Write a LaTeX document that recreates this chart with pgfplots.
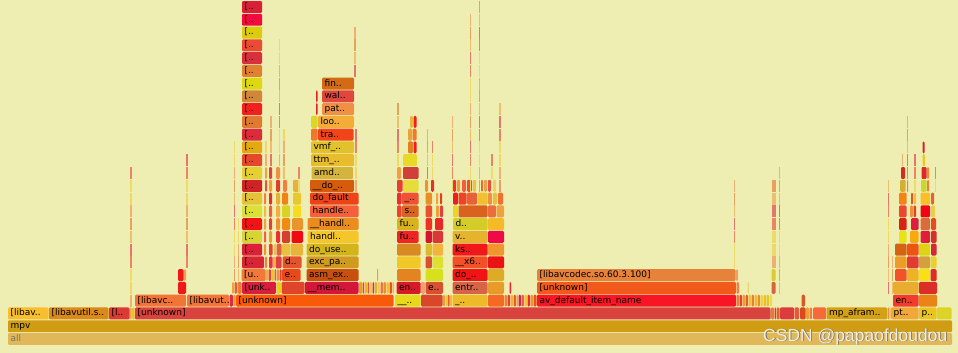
\documentclass[border=0pt]{standalone}
\usepackage{fontspec}
\setmainfont{DejaVu Sans}
\newfontfamily\wmfont{Liberation Sans}
\usepackage{pgfplots}
\pgfplotsset{compat=1.18}
\definecolor{bgc}{HTML}{EEEEB3}
\definecolor{p0}{HTML}{E8A040}
\definecolor{p1}{HTML}{E84030}
\definecolor{p2}{HTML}{F0C838}
\definecolor{p3}{HTML}{E07028}
\definecolor{p4}{HTML}{DC2840}
\definecolor{p5}{HTML}{E8D030}
\definecolor{p6}{HTML}{F08848}
\newcount\fcc
\tikzset{lab/.style={anchor=base west,inner sep=0pt,font=\fontsize{9.0}{11}\selectfont,text=black}}
% frame: x1, x2, level, colour, label
\newcommand{\F}[5]{%
  \global\advance\fcc by 1
  \xglobal\definecolor{fc\the\fcc}{HTML}{#4}%
  \pgfmathsetmacro\Lt{#3+0.937}%
  \edef\tmp{\noexpand\addplot[draw=none,fill=fc\the\fcc,rounded corners=1.2pt] coordinates {(#1,#3) (#2,#3) (#2,\Lt) (#1,\Lt)} -- cycle;}\tmp
  \ifx\relax#5\relax\else
    \pgfmathsetmacro\xl{#1+2.4}\pgfmathsetmacro\yl{#3+0.28}%
    \edef\tmp{\noexpand\node[lab] at (axis cs:\xl,\yl) {\unexpanded{#5}};}\tmp
  \fi}
% thin frames stacked: x, from level, to level, width
\newcommand{\V}[4]{%
  \pgfplotsforeachungrouped \lv in {#2,...,#3}{%
    \pgfmathsetmacro\xb{#1+#4}%
    \pgfmathsetmacro\Lt{\lv+0.937}%
    \pgfmathtruncatemacro\ci{mod(\lv*3+int(#1),7)}%
    \edef\tmp{\noexpand\addplot[draw=none,fill=p\ci!60!bgc] coordinates {(#1,\lv) (\xb,\lv) (\xb,\Lt) (#1,\Lt)} -- cycle;}\tmp
  }}
\begin{document}
\begin{tikzpicture}
\begin{axis}[scale only axis, width=958pt, height=353pt,
  xmin=0, xmax=958, ymin=-0.6265, ymax=27.016,
  axis line style={draw=none}, ticks=none,
  axis background/.style={fill=bgc}, clip=false]
% level 0,1
\F{8}{952}{0}{E0B85A}{}
\node[lab,text={rgb,255:red,120;green,115;blue,95}] at (axis cs:10.4,0.28) {all};
\F{8}{952}{1}{CF9C14}{mpv}
% level 2
\F{8}{48.5}{2}{F8BE2E}{[libav..}
\F{49}{108.5}{2}{D98A18}{[libavutil.s..}
\F{109}{129.5}{2}{DC3A34}{[l..}
\F{130}{131.5}{2}{F0A050}{}
\F{132}{134.5}{2}{E8C030}{}
\F{135}{770.5}{2}{D9433D}{[unknown]}
\F{771}{774}{2}{E8783A}{}
\F{774.5}{776}{2}{F03020}{}
\F{776.5}{779.5}{2}{E06030}{}
\F{780}{794}{2}{DC3C3C}{}
\F{794.5}{799}{2}{E85838}{}
\F{800}{805.5}{2}{D84A20}{}
\F{806}{809}{2}{F0A030}{}
\F{809.5}{812}{2}{F07848}{}
\F{813}{826}{2}{F56A3A}{}
\F{826.5}{887}{2}{D4A015}{mp\_afram..}
\F{887.5}{889}{2}{E09040}{}
\F{889.5}{890.5}{2}{E8B040}{}
\F{891}{918.5}{2}{F2A838}{pt..}
\F{919}{936.5}{2}{ECC420}{p..}
\F{937}{951.5}{2}{DDD42A}{}
% level 3
\F{135}{186}{3}{F27436}{[libavc..}
\F{187}{229}{3}{F27436}{[libavut..}
\F{229.5}{233}{3}{DD2A40}{}
\F{233.5}{235.5}{3}{F09030}{}
\F{236}{393.5}{3}{F85A0A}{[unknown]}
\F{395}{420.5}{3}{E8D81A}{\_\_..}
\F{421}{442.5}{3}{D8472A}{}
\F{443}{445}{3}{E8A030}{}
\F{445.5}{447}{3}{F0C040}{}
\F{447.5}{449.5}{3}{E06030}{}
\F{450}{452}{3}{F2B838}{}
\F{452.5}{487.5}{3}{EDBA2A}{\_..}
\F{488}{504}{3}{F56A22}{}
\F{504.5}{507}{3}{F08030}{}
\F{507.5}{510}{3}{E84030}{}
\F{510.5}{513}{3}{F0B040}{}
\F{513.5}{516}{3}{E06020}{}
\F{516.5}{518}{3}{F0A040}{}
\F{518.5}{521}{3}{DD2050}{}
\F{521.5}{524}{3}{E86040}{}
\F{524.5}{527}{3}{F5C030}{}
\F{527.5}{530}{3}{E03030}{}
\F{530.5}{533}{3}{F09030}{}
\F{533.5}{536.5}{3}{E85020}{}
\F{537}{736}{3}{F81624}{av\_default\_item\_name}
\F{736.5}{739}{3}{F07838}{}
\F{739.5}{742}{3}{E84030}{}
\F{742.5}{745}{3}{F0A030}{}
\F{745.5}{748}{3}{E06030}{}
\F{748.5}{751}{3}{F0C040}{}
\F{751.5}{754}{3}{E88030}{}
\F{754.5}{757}{3}{F0B838}{}
\F{757.5}{760}{3}{E09030}{}
\F{760.5}{763}{3}{F0D040}{}
\F{763.5}{766}{3}{E8C030}{}
\F{766.5}{769}{3}{DDC830}{}
\F{769.5}{772}{3}{F0D850}{}
\F{801.5}{805}{3}{D85A20}{}
\F{893}{918.5}{3}{F03C2C}{en..}
\F{919}{937}{3}{EA8418}{}
% level 4
\F{178}{186}{4}{F01818}{}
\F{232}{234}{4}{F0A040}{}
\F{234.5}{237}{4}{E06030}{}
\F{237.5}{241.5}{4}{F07830}{}
\F{242}{276}{4}{D71E3C}{[unk..}
\F{276.5}{281}{4}{E8D020}{}
\F{281.5}{304.5}{4}{E0452C}{}
\F{305}{358.5}{4}{D4163A}{\_\_mem..}
\F{359}{362}{4}{E8A020}{}
\F{362.5}{364}{4}{F04030}{}
\F{364.5}{367}{4}{F0B030}{}
\F{367.5}{369}{4}{E05050}{}
\F{369.5}{372}{4}{F0C848}{}
\F{372.5}{374}{4}{DD3030}{}
\F{374.5}{377}{4}{F0A050}{}
\F{377.5}{380}{4}{E8D040}{}
\F{380.5}{383}{4}{F07040}{}
\F{383.5}{386}{4}{E89030}{}
\F{386.5}{389}{4}{F0C030}{}
\F{389.5}{392}{4}{E85030}{}
\F{392.5}{394}{4}{F0B848}{}
\F{396.5}{420.5}{4}{D81A28}{en..}
\F{421}{425}{4}{F0A070}{}
\F{425.5}{443}{4}{D85030}{e..}
\F{452.5}{487.5}{4}{D86448}{entr..}
\F{488}{504}{4}{E89C28}{}
\F{509.5}{511}{4}{E82030}{}
\F{537}{736}{4}{F25A1C}{[unknown]}
\F{736.5}{739}{4}{F08048}{}
\F{747.5}{749}{4}{E8D870}{}
\F{771.5}{775.5}{4}{D86440}{}
\F{893}{918.5}{4}{E8AC30}{}
\F{919}{937}{4}{DC2E28}{}
% level 5
\F{178}{183.5}{5}{F01818}{}
\F{184}{186}{5}{F0A050}{}
\F{241.5}{265.5}{5}{F2783A}{[u..}
\F{266}{268}{5}{E8B040}{}
\F{268.5}{271}{5}{F04030}{}
\F{271.5}{274}{5}{F0C030}{}
\F{274.5}{276}{5}{E06030}{}
\F{276.5}{279}{5}{F09040}{}
\F{279.5}{281.5}{5}{E84030}{}
\F{282}{300.5}{5}{EA4818}{e..}
\F{306.5}{358.5}{5}{C8500E}{asm\_ex..}
\F{377}{378}{5}{F09080}{}
\F{397}{420.5}{5}{E48420}{}
\F{425.5}{443}{5}{D8E01C}{}
\F{452.5}{487.5}{5}{F01414}{do\_..}
\F{488}{504}{5}{DCAC24}{}
\F{537}{735.5}{5}{E6823A}{[libavcodec.so.60.3.100]}
\F{736}{738}{5}{F0A060}{}
\F{771.5}{775.5}{5}{D8CC30}{}
\F{895}{906.5}{5}{F25228}{}
\F{907}{918.5}{5}{ECB424}{}
\F{919}{930}{5}{F8E014}{}
\F{930.5}{936.5}{5}{E02A24}{}
% level 6
\F{242}{264}{6}{D82434}{[..}
\F{265}{267}{6}{F08040}{}
\F{269}{272.5}{6}{E83040}{}
\F{273}{275}{6}{F0B040}{}
\F{275.5}{281.5}{6}{DD4040}{}
\F{282.5}{301.5}{6}{E4542C}{d..}
\F{306.5}{358.5}{6}{D09A1E}{exc\_pa..}
\F{397}{420.5}{6}{F0C828}{}
\F{425.5}{432}{6}{D85030}{}
\F{432.5}{443}{6}{DCE030}{}
\F{452.5}{487.5}{6}{F45028}{\_\_x6..}
\F{488}{504}{6}{EA1414}{}
\F{895}{906.5}{6}{EC9C28}{}
\F{907}{918.5}{6}{E03C34}{}
\F{919}{930}{6}{D4A03C}{}
\F{930.5}{936.5}{6}{E8D030}{}
% level 7
\F{242}{262}{7}{DC2038}{[..}
\F{264}{266}{7}{F09040}{}
\F{269}{272.5}{7}{E84030}{}
\F{274}{276}{7}{F0C040}{}
\F{276.5}{281.5}{7}{DD6040}{}
\F{282}{290}{7}{EBC040}{}
\F{290.5}{303}{7}{E8B43C}{}
\F{306.5}{358.5}{7}{D4B41C}{do\_use..}
\F{397}{420.5}{7}{D88A20}{}
\F{425.5}{432}{7}{D8BC2C}{}
\F{432.5}{443}{7}{F4B43C}{}
\F{452.5}{487.5}{7}{F01818}{ks..}
\F{488}{504}{7}{F0962C}{}
\F{895}{906.5}{7}{D46414}{}
\F{907}{918.5}{7}{EC5414}{}
\F{919}{930}{7}{DCD414}{}
\F{931}{936.5}{7}{D42838}{}
% level 8
\F{242}{262}{8}{D8D432}{[..}
\F{264}{266}{8}{F06050}{}
\F{269}{272}{8}{E8A030}{}
\F{276}{280}{8}{F03030}{}
\F{282}{290}{8}{D44030}{}
\F{291.5}{303}{8}{F00A14}{}
\F{307.5}{358.5}{8}{F4C628}{handl..}
\F{397}{418.5}{8}{F02424}{fu..}
\F{425.5}{432}{8}{D41430}{}
\F{432.5}{443}{8}{D83838}{}
\F{452.5}{487.5}{8}{E6B42C}{v..}
\F{488}{504}{8}{EE0A46}{}
\F{899}{906.5}{8}{E8E414}{}
\F{910}{918.5}{8}{F8AA0A}{}
\F{920.5}{930}{8}{E01E3C}{}
\F{931}{936.5}{8}{D43028}{}
% level 9
\F{242}{262}{9}{F01414}{[..}
\F{264}{266}{9}{F0A040}{}
\F{269}{272}{9}{E04040}{}
\F{276}{280}{9}{F09030}{}
\F{282}{290}{9}{F08C14}{}
\F{292}{303}{9}{E8962C}{}
\F{307.5}{358.5}{9}{EB8C1E}{\_\_handl..}
\F{397}{418.5}{9}{D8B41C}{fu..}
\F{425.5}{432}{9}{F03020}{}
\F{435}{443}{9}{E82828}{}
\F{453}{487.5}{9}{D4CC28}{d..}
\F{488}{504}{9}{F4BA28}{}
\F{899}{906.5}{9}{D82414}{}
\F{911}{918.5}{9}{DC1E3C}{}
\F{920.5}{930}{9}{D86C3C}{}
\F{931}{936}{9}{E84A20}{}
% level 10
\F{242}{262}{10}{DCE034}{[..}
\F{264}{266}{10}{E8C040}{}
\F{269}{272}{10}{F06040}{}
\F{276}{280}{10}{F0B040}{}
\F{282}{290}{10}{D8D424}{}
\F{293}{301}{10}{F8DC1C}{}
\F{310}{358.5}{10}{F4603A}{handle..}
\F{397}{401.5}{10}{F04030}{}
\F{402}{418.5}{10}{D86420}{s..}
\F{425.5}{432}{10}{E85030}{}
\F{436}{439}{10}{F0A030}{}
\F{440}{443}{10}{E04040}{}
\F{453}{458}{10}{ECD420}{}
\F{458.5}{487.5}{10}{D8621E}{}
\F{488}{496}{10}{EC6C3C}{}
\F{496.5}{504}{10}{F0A040}{}
\F{899}{906.5}{10}{EC4830}{}
\F{910}{913}{10}{F09030}{}
\F{913.5}{916}{10}{E04030}{}
\F{920.5}{930}{10}{F00418}{}
\F{931}{935}{10}{E8D040}{}
% level 11
\F{242}{262}{11}{E4C434}{[..}
\F{264}{266}{11}{F08040}{}
\F{269}{272}{11}{E03030}{}
\F{276}{280}{11}{E8B030}{}
\F{282}{288}{11}{F08018}{}
\F{293}{301}{11}{E8C830}{}
\F{310}{358.5}{11}{EC4418}{do\_fault}
\F{397}{401.5}{11}{E83030}{}
\F{402}{418.5}{11}{EE5232}{\_..}
\F{425.5}{432}{11}{E89028}{}
\F{436}{438}{11}{F0A040}{}
\F{440}{442}{11}{E04020}{}
\F{453}{458}{11}{E82020}{}
\F{458.5}{466.5}{11}{EC4428}{}
\F{467}{477}{11}{E86038}{}
\F{477.5}{487.5}{11}{F0C030}{}
\F{488}{492}{11}{F09040}{}
\F{493}{497}{11}{E8C040}{}
\F{498}{503}{11}{F07030}{}
\F{899}{906.5}{11}{F28418}{}
\F{911}{913}{11}{E85030}{}
\F{914}{916}{11}{F0C030}{}
\F{920.5}{930}{11}{FABE28}{}
\F{931}{934}{11}{E86030}{}
% level 12
\F{242}{262}{12}{D02424}{[..}
\F{265}{267}{12}{E85040}{}
\F{269}{272}{12}{F0A030}{}
\F{276}{280}{12}{D84030}{}
\F{283}{287}{12}{F08040}{}
\F{293}{299}{12}{E8B040}{}
\F{310}{354}{12}{D45C0C}{\_\_do\_..}
\F{397}{402.5}{12}{E84030}{}
\F{403}{418.5}{12}{E6DC3C}{}
\F{425}{428}{12}{F09030}{}
\F{431}{434}{12}{E03030}{}
\F{453}{456}{12}{F03030}{}
\F{457}{460}{12}{E8A030}{}
\F{462}{466}{12}{F06040}{}
\F{467}{472}{12}{E85030}{}
\F{473}{476}{12}{F0C040}{}
\F{481}{483}{12}{E07030}{}
\F{484}{487}{12}{F0A040}{}
\F{488}{491}{12}{E85040}{}
\F{493}{496}{12}{F0D060}{}
\F{900}{905.5}{12}{D6AE32}{}
\F{907}{908}{12}{F08040}{}
\F{921}{926.5}{12}{CED434}{}
\F{927}{929}{12}{F08030}{}
% level 13
\F{242}{262}{13}{E6D030}{[..}
\F{265}{267}{13}{F0A040}{}
\F{269}{272}{13}{E04040}{}
\F{276}{280}{13}{F09040}{}
\F{311.5}{353}{13}{D4B43C}{amd..}
\F{397}{401}{13}{F0A040}{}
\F{403}{418.5}{13}{D04038}{}
\F{901}{905}{13}{D42C20}{}
\F{921.5}{926.5}{13}{DC2828}{}
\F{927}{929}{13}{F08830}{}
% level 14
\F{242}{262}{14}{E6482C}{[..}
\F{311}{354}{14}{E8BC2C}{ttm\_..}
\F{403}{417}{14}{E8D828}{}
\F{922.5}{925}{14}{EAC828}{}
% level 15
\F{242}{262}{15}{E2AA10}{[..}
\F{311}{354}{15}{E2C22C}{vmf\_..}
\F{408}{413}{15}{E08020}{}
\F{413.5}{416.5}{15}{F01E1E}{}
\F{922.5}{924.5}{15}{DC2030}{}
% level 16
\F{242}{262}{16}{DC2C3C}{[..}
\F{311}{317.5}{16}{F07828}{}
\F{318}{353.5}{16}{F24418}{tra..}
\F{408}{412}{16}{E8A438}{}
\F{412.5}{416.5}{16}{EE7A2A}{}
% level 17
\F{242}{262}{17}{E07A30}{[..}
\F{311}{317.5}{17}{D8D828}{}
\F{318}{354}{17}{F4AC38}{loo..}
\F{410}{413}{17}{E8B838}{}
\F{413.5}{416.5}{17}{F02020}{}
% level 18-26
\F{242}{262}{18}{F42020}{[..}
\F{316}{317.5}{18}{E82020}{}
\F{322}{354}{18}{F09044}{pat..}
\F{242}{262}{19}{D08838}{[..}
\F{316}{317.5}{19}{E02030}{}
\F{322}{354}{19}{E0463C}{wal..}
\F{242}{262}{20}{DCD814}{[..}
\F{322}{354}{20}{D46A14}{fin..}
\F{242}{262}{21}{E08030}{[..}
\F{242}{262}{22}{D8303C}{[..}
\F{242}{262}{23}{EC4A34}{[..}
\F{242}{262}{24}{DCCC0C}{[..}
\F{242}{262}{25}{F40A3C}{[..}
\F{242}{262}{26}{D82036}{[..}
% thin stacks
\V{130.3}{3}{13}{1.2}
\V{186.3}{6}{14}{1.2}
\V{233.5}{5}{15}{1.2}
\V{237.5}{5}{9}{1.5}
\V{265}{14}{15}{1.5}
\V{270}{14}{17}{1.5}
\V{279}{14}{23}{1.3}
\V{283}{13}{16}{1.5}
\V{298}{12}{13}{2}
\V{354.2}{21}{24}{1.3}
\V{355}{12}{16}{1.5}
\V{397}{14}{18}{1.5}
\V{427}{13}{16}{1.3}
\V{432}{13}{15}{1.2}
\V{452}{12}{17}{1.3}
\V{470}{12}{25}{1.2}
\V{478.5}{12}{26}{1.5}
\V{491}{13}{14}{1.5}
\V{499}{12}{18}{1.5}
\V{733.5}{6}{12}{1.3}
\V{772}{6}{12}{3.5}
\V{779}{4}{13}{1}
\V{888}{4}{12}{1}
\V{891.5}{4}{6}{1}
\V{902}{14}{14}{1}
\V{907}{13}{17}{1.2}
\V{935}{12}{13}{1.3}
\V{914}{12}{14}{1.5}
% watermark
\node[anchor=base west,inner sep=0pt,font=\wmfont\fontsize{17.5}{18}\selectfont,text={rgb,255:red,110;green,105;blue,90}] at (axis cs:763.8,0.25) {CSDN @papaofdoudou};
\node[anchor=base west,inner sep=0pt,font=\wmfont\fontsize{17.5}{18}\selectfont,text={rgb,255:red,240;green,238;blue,228}] at (axis cs:763,0.31) {CSDN @papaofdoudou};
\end{axis}
\end{tikzpicture}
\end{document}
